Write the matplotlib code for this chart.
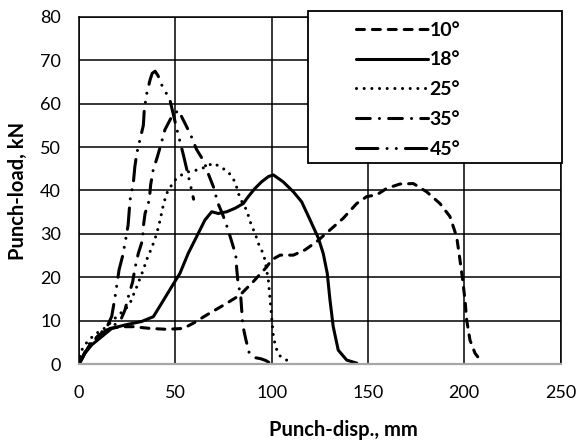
import matplotlib
matplotlib.use("Agg")
import matplotlib.pyplot as plt
from matplotlib.patches import Rectangle

plt.rcParams['font.family'] = ['Lato', 'DejaVu Sans']

# ---- data ----
x10 = [0, 3, 6, 10, 16, 22, 28.2, 36.9, 45.5, 54.2, 59.3, 66.3, 76.7, 83.6, 90.5, 97.5, 100, 104.4,
       111.3, 117.3, 123.4, 130.3, 137.2, 144.2, 149.4, 154.6, 159.8, 166.7, 173.6, 180.5, 187.4,
       192.6, 196.1, 197.8, 199.2, 200.4, 201.3, 203, 205.6, 209]
y10 = [0, 2.5, 4.5, 6.5, 8.2, 8.6, 8.6, 8.2, 8.0, 8.2, 9.4, 11.3, 14.0, 15.9, 19.0, 22.4, 24.0, 25.1,
       25.1, 26.3, 28.2, 30.9, 33.6, 37.0, 38.6, 39.0, 40.5, 41.5, 41.6, 39.7, 37.0,
       34.0, 29.3, 24.0, 19.4, 14.8, 10.1, 5.5, 2.5, 0.5]

x18 = [0, 3.1, 6.6, 11.8, 17, 23.9, 32.5, 38.6, 42.9, 48.1, 52.4, 56.7, 61.9, 65.4, 68.9, 72.3, 76.7,
       81, 85.3, 87.9, 91.4, 94.8, 98.3, 100.9, 106, 111.3, 115.6, 120, 124.3, 126.8, 128.9, 130.3,
       132, 134.6, 139, 144.2]
y18 = [0, 2.5, 4.4, 6.3, 8.2, 9.0, 9.8, 10.9, 14.0, 17.8, 20.9, 25.5, 30.1, 33.2, 35.1, 34.7, 35.1,
       35.9, 37.0, 38.6, 40.5, 42.0, 43.2, 43.6, 42.0, 39.7, 37.4, 33.2, 29.0, 25.5, 20.9, 14.8,
       8.6, 3.2, 0.9, 0.2]

x25 = [0, 0.5, 3, 5.7, 9.2, 13.5, 17, 20.4, 23.9, 26.5, 28.2, 30, 31.7, 33.4, 35.1, 36.9, 38.6, 40.3,
       41.7, 42.9, 43.8, 45.5, 47.6, 49.8, 53.3, 56.7, 61, 63.5, 69.7, 73.2, 77.5, 81, 83.6, 87,
       89.7, 91.4, 93.1, 94.8, 96.6, 97.4, 98.3, 99, 100, 101, 102.5, 104, 107, 111]
y25 = [0, 2.5, 4.4, 5.8, 7.1, 8.3, 9.8, 11.3, 12.5, 14.0, 15.9, 17.8, 19.8, 21.7, 24.0, 25.9, 27.8, 30.0,
       32.4, 34.8, 36.7, 39.3, 40.9, 42.4, 43.6, 44.3, 44.7, 45.0, 46.3, 45.5, 44.3, 42.0, 38.2, 35.5,
       31.7, 30.2, 27.8, 26.3, 24.0, 21.7, 19.4, 16.0, 10.9, 6.0, 3.5, 2.0, 1.0, 0.5]

x35 = [0, 5, 10, 15, 20, 22, 23.9, 25.6, 27.9, 29, 30.8, 33, 33.4, 34.3, 36.5, 37.2, 38.5, 40.5, 42.6,
       44.6, 48.1, 51.6, 55, 58, 61, 65, 67, 70, 72, 74.4, 77, 79.3, 81.4, 81.9, 82.5, 84, 84.5, 85,
       86.7, 88.3, 91, 94.5, 97, 100]
y35 = [0, 4.5, 6.5, 8.0, 9.5, 10.5, 12.5, 15.5, 19.0, 22.0, 25.5, 28.6, 31.7, 34.7, 37.8, 41.3, 44.7,
       47.5, 50.7, 54.0, 57.0, 58.5, 55.5, 52.8, 49.5, 46.6, 44.0, 40.6, 37.2, 34.7, 31.5, 28.2, 25.1,
       21.9, 19.0, 15.5, 12.3, 9.0, 5.5, 2.7, 1.5, 1.2, 0.8, 0]

x45 = [0, 5, 10, 15, 17, 18.7, 20.8, 22.7, 24.2, 25.5, 26.5, 28.2, 29, 30, 33.4, 33.9, 35.1, 36.9, 38,
       39.5, 41, 43, 47.2, 49, 50.7, 54.2, 58, 59.5]
y45 = [0, 4.0, 6.5, 9.0, 11.0, 15.4, 21.7, 25.0, 28.6, 32.0, 37.8, 41.7, 45.5, 48.6, 55.0, 58.6, 62.2,
       65.5, 67.0, 67.5, 66.5, 64.3, 60.9, 57.5, 54.3, 48.2, 41.0, 38.0]

labels = ['10°', '18°', '25°', '35°', '45°']
xticks = [0, 50, 100, 150, 200, 250]
yticks = [0, 10, 20, 30, 40, 50, 60, 70, 80]

# ---- figure ----
W, H = 577, 440
fig = plt.figure(figsize=(W / 100, H / 100), dpi=100)
ax = fig.add_axes([79 / W, 1 - 364 / H, (560.5 - 79) / W, (364 - 17) / H])

lw = 2.2
common = dict(color='black', lw=lw, solid_capstyle='round', dash_capstyle='round')
ax.plot(x10, y10, linestyle=(0, (2.6, 2.6)), label=labels[0], **common)
ax.plot(x18, y18, linestyle='-', label=labels[1], **common)
ax.plot(x25, y25, linestyle=(0, (0.01, 2.5)), label=labels[2], **common)
ax.plot(x35, y35, linestyle=(0, (4.5, 3.0, 0.01, 3.0)), label=labels[3], **common)
ax.plot(x45, y45, linestyle=(0, (7.0, 3.0, 0.01, 3.0, 0.01, 3.0)), label=labels[4], **common)

ax.set_xlim(0, 250)
ax.set_ylim(0, 80)
ax.set_xticks(xticks)
ax.set_yticks(yticks)
ax.set_axisbelow(True)
ax.grid(True, color='black', lw=1.1)
ax.tick_params(length=0, labelsize=13)
ax.tick_params(axis='y', pad=13)
ax.tick_params(axis='x', pad=15)
for s in ['left', 'right', 'top']:
    ax.spines[s].set_color('black')
    ax.spines[s].set_linewidth(1.1)
ax.spines['bottom'].set_color('#a6a6a6')
ax.spines['bottom'].set_linewidth(1.6)

ax.set_xlabel('Punch-disp., mm', fontsize=14.5, fontweight='bold')
ax.xaxis.set_label_coords((343.5 - 79) / (560.5 - 79), -(420 - 364) / (364 - 17))
ax.set_ylabel('Punch-load, kN', fontsize=14.5, fontweight='bold')
ax.yaxis.set_label_coords(-(79 - 28) / (560.5 - 79), 0.5)

# legend box
fig.patches.append(Rectangle((308 / W, 1 - 163 / H), (562 - 308) / W, (163 - 11) / H,
                             transform=fig.transFigure, facecolor='white', edgecolor='black',
                             lw=1.3, zorder=5))
leg = fig.legend(loc='upper left', bbox_to_anchor=(342 / W, 1 - 8 / H), frameon=False,
                 prop={'weight': 'bold', 'size': 14}, handlelength=3.7, handletextpad=0.1,
                 labelspacing=0.66, borderpad=0.2)
leg.set_zorder(6)

fig.savefig('out.png', dpi=100)
